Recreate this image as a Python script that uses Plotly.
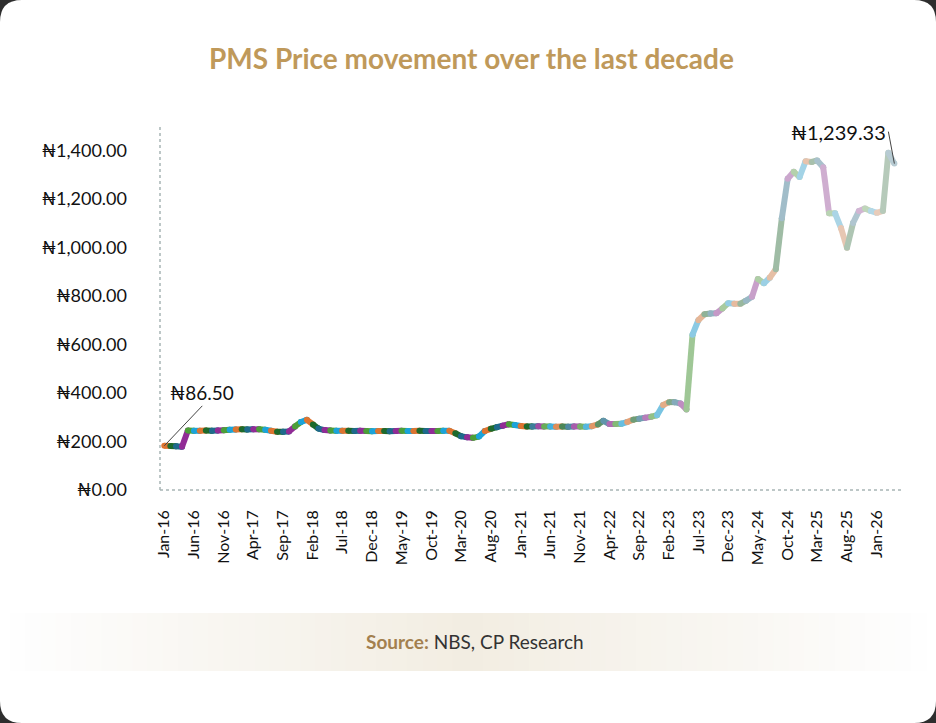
import pandas as pd
import plotly.graph_objects as go

# monthly PMS price, Jan-16 .. Apr-26
prices = [
    182, 181, 180, 178, 245, 244, 244, 245, 244, 245, 246, 248,      # 2016
    249, 250, 249, 250, 250, 248, 244, 240, 240, 241, 262, 280,      # 2017
    289, 270, 253, 247, 245, 244, 244, 244, 243, 244, 243, 242,      # 2018
    243, 243, 242, 243, 244, 243, 243, 244, 243, 243, 243, 244,      # 2019
    244, 234, 222, 217, 215, 220, 243, 252, 259, 265, 271, 268,      # 2020
    264, 262, 262, 263, 262, 262, 261, 262, 261, 262, 262, 261,      # 2021
    263, 270, 285, 272, 272, 273, 280, 290, 294, 298, 302, 308,      # 2022
    350, 362, 362, 356, 332, 640, 700, 724, 727, 728, 748, 770,      # 2023
    768, 767, 780, 796, 870, 852, 875, 910, 1120, 1283, 1311, 1290,  # 2024
    1355, 1352, 1358, 1330, 1140, 1140, 1080, 998, 1100, 1150, 1160, 1150,  # 2025
    1142, 1150, 1390, 1345,                                          # 2026
]
months = pd.date_range("2016-01-01", periods=len(prices), freq="MS")

first_label = "₦86.50"
last_label = "₦1,239.33"
y_ticks = [0, 200, 400, 600, 800, 1000, 1200, 1400]
y_tick_text = [f"₦{v:,.2f}" for v in y_ticks]

# excel-ish "vary colours by point" cycle
base_colors = ["#DD7430", "#1D6A2C", "#1E6A8C", "#912C96", "#4C9F38", "#1BA3DA"]
gold = "#BF995A"

W, H = 936, 723
L, R, T, B = 160, 34, 126, 233
PW, PH = W - L - R, H - T - B


def px_x(px):
    return (px - L) / PW


def px_y(py):
    return (H - B - py) / PH


def mix(hex_col, f, target=(236, 236, 236)):
    r, g, b = int(hex_col[1:3], 16), int(hex_col[3:5], 16), int(hex_col[5:7], 16)
    r = round(r + (target[0] - r) * f)
    g = round(g + (target[1] - g) * f)
    b = round(b + (target[2] - b) * f)
    return f"rgb({r},{g},{b})"


def seg_color(k):
    if k < 62:
        f = 0.0
    elif k < 90:
        f = 0.15 + (k - 62) / 28 * 0.4
    else:
        f = 0.55 + (k - 90) / 33 * 0.2
    return mix(base_colors[k % 6], f)


fig = go.Figure()
for k in range(len(prices) - 1):
    c = seg_color(k)
    fig.add_trace(go.Scatter(
        x=months[k:k + 2], y=prices[k:k + 2], mode="lines+markers",
        line=dict(color=c, width=6), marker=dict(color=c, size=6),
        hoverinfo="skip", showlegend=False,
    ))

shapes = []
# white card with rounded corners
x0, x1, y0, y1 = px_x(0), px_x(W), px_y(H), px_y(0)
rx, ry = 22 / PW, 22 / PH
shapes.append(dict(
    type="path", xref="paper", yref="paper", layer="below",
    path=(f"M {x0 + rx},{y1} L {x1 - rx},{y1} Q {x1},{y1} {x1},{y1 - ry} "
          f"L {x1},{y0 + ry} Q {x1},{y0} {x1 - rx},{y0} L {x0 + rx},{y0} "
          f"Q {x0},{y0} {x0},{y0 + ry} L {x0},{y1 - ry} Q {x0},{y1} {x0 + rx},{y1} Z"),
    fillcolor="white", line=dict(width=0),
))
# source band: opaque strips fading from beige in the middle to white at the ends
band_l, band_r, n_strips = 10, 926, 60
sw = (band_r - band_l) / n_strips
mid = (band_l + band_r) / 2
for j in range(n_strips):
    cx = band_l + (j + 0.5) * sw
    t = min(1.0, abs(cx - mid) / (mid - band_l))
    col = (round(242 + 12 * t), round(237 + 17 * t), round(226 + 28 * t))
    shapes.append(dict(
        type="rect", xref="paper", yref="paper", layer="below",
        x0=px_x(band_l + j * sw), x1=px_x(band_l + (j + 1) * sw + 0.6),
        y0=px_y(671), y1=px_y(613),
        fillcolor=f"rgb({col[0]},{col[1]},{col[2]})", line=dict(width=0),
    ))
# dotted axis lines
shapes.append(dict(type="line", xref="paper", yref="paper", x0=0, x1=1, y0=0, y1=0,
                   line=dict(color="#A8B5B5", width=1.5, dash="dot")))
shapes.append(dict(type="line", xref="paper", yref="paper", x0=0, x1=0, y0=0, y1=1,
                   line=dict(color="#A8B5B5", width=1.5, dash="dot")))

font_main = "Lato, Noto Sans, DejaVu Sans"

annotations = [
    dict(x=months[0], y=prices[0], text=first_label, showarrow=True, arrowhead=0,
         arrowwidth=1, arrowcolor="#444", ax=38, ay=-40, xanchor="center", yanchor="bottom",
         font=dict(size=19, color="#111", family=font_main)),
    dict(x=months[-1], y=prices[-1], text=last_label, showarrow=True, arrowhead=0,
         arrowwidth=1, arrowcolor="#444", ax=-6, ay=-32, xanchor="right", yanchor="middle",
         font=dict(size=20, color="#111", family=font_main)),
    dict(xref="paper", yref="paper", x=px_x(471), y=px_y(58), showarrow=False,
         xanchor="center", yanchor="middle",
         text="<b>PMS Price movement over the last decade</b>",
         font=dict(size=28, color=gold, family=font_main)),
    dict(xref="paper", yref="paper", x=px_x(475), y=px_y(641), showarrow=False,
         xanchor="center", yanchor="middle",
         text="<b><span style='color:#A3804F'>Source:</span></b> NBS, CP Research",
         font=dict(size=19, color="#333", family=font_main)),
]

fig.update_layout(
    width=W, height=H,
    margin=dict(l=L, r=R, t=T, b=B),
    paper_bgcolor="#2E2E2E", plot_bgcolor="rgba(0,0,0,0)",
    shapes=shapes, annotations=annotations,
    font=dict(family=font_main, color="#111"),
    xaxis=dict(
        type="date", range=["2015-12-10", "2026-05-10"], automargin=False,
        tick0="2016-01-01", dtick="M5", tickformat="%b-%y", tickangle=-90,
        showgrid=False, zeroline=False, showline=False, ticks="",
        ticklabelstandoff=16, tickfont=dict(size=16, color="#111"),
    ),
    yaxis=dict(
        range=[0, 1500], tickvals=y_ticks, ticktext=y_tick_text, automargin=False,
        showgrid=False, zeroline=False, showline=False, ticks="",
        ticklabelstandoff=32, tickfont=dict(size=18, color="#111"),
    ),
)

# page body has a default 8px margin; drop it so the card fills the window
fig.write_html("out.html", config={"displayModeBar": False},
               post_script="document.body.style.margin='0';")
